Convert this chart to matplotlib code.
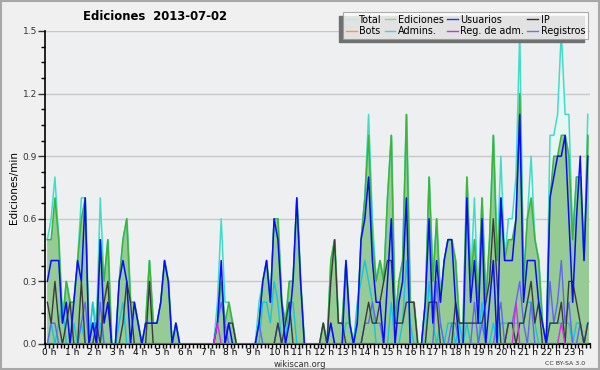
import numpy as np
import matplotlib.pyplot as plt
import matplotlib.transforms as mtransforms
from matplotlib.patches import Rectangle

# values per 10 minutes (edits/min), one row per hour
total = [0.5, 0.6, 0.8, 0.5, 0.1, 0.3,  0.2, 0.2, 0.4, 0.7, 0.7, 0.0,
         0.2, 0.1, 0.7, 0.3, 0.5, 0.0,  0.0, 0.3, 0.5, 0.6, 0.2, 0.2,
         0.1, 0.0, 0.1, 0.4, 0.1, 0.1,  0.2, 0.4, 0.3, 0.0, 0.1, 0.0,
         0.0, 0.0, 0.0, 0.0, 0.0, 0.0,  0.0, 0.0, 0.0, 0.2, 0.6, 0.2,
         0.2, 0.1, 0.0, 0.0, 0.0, 0.0,  0.0, 0.0, 0.2, 0.3, 0.4, 0.2,
         0.6, 0.6, 0.2, 0.1, 0.3, 0.3,  0.7, 0.3, 0.0, 0.0, 0.0, 0.0,
         0.0, 0.1, 0.0, 0.4, 0.5, 0.1,  0.1, 0.4, 0.1, 0.0, 0.1, 0.5,
         0.7, 1.1, 0.6, 0.3, 0.4, 0.3,  0.7, 1.0, 0.1, 0.3, 0.4, 1.1,
         0.2, 0.2, 0.0, 0.0, 0.2, 0.8,  0.3, 0.6, 0.2, 0.4, 0.5, 0.5,
         0.4, 0.1, 0.1, 0.8, 0.3, 0.7,  0.2, 0.7, 0.2, 0.5, 1.0, 0.4,
         0.9, 0.4, 0.6, 0.6, 0.8, 1.5,  0.3, 0.6, 0.9, 0.5, 0.4, 0.1,
         0.0, 1.0, 1.0, 1.1, 1.5, 1.1,  1.1, 0.5, 0.8, 0.8, 0.4, 1.1]
ediciones = [0.5, 0.5, 0.7, 0.5, 0.1, 0.3,  0.2, 0.2, 0.4, 0.6, 0.7, 0.0,
             0.1, 0.1, 0.5, 0.3, 0.5, 0.0,  0.0, 0.3, 0.5, 0.6, 0.2, 0.2,
             0.1, 0.0, 0.1, 0.4, 0.1, 0.1,  0.2, 0.4, 0.3, 0.0, 0.1, 0.0,
             0.0, 0.0, 0.0, 0.0, 0.0, 0.0,  0.0, 0.0, 0.0, 0.1, 0.3, 0.1,
             0.2, 0.1, 0.0, 0.0, 0.0, 0.0,  0.0, 0.0, 0.1, 0.3, 0.4, 0.2,
             0.6, 0.6, 0.2, 0.1, 0.3, 0.3,  0.7, 0.3, 0.0, 0.0, 0.0, 0.0,
             0.0, 0.1, 0.0, 0.4, 0.5, 0.1,  0.1, 0.4, 0.1, 0.0, 0.1, 0.5,
             0.7, 1.0, 0.5, 0.3, 0.4, 0.3,  0.7, 1.0, 0.1, 0.3, 0.4, 1.1,
             0.2, 0.2, 0.0, 0.0, 0.2, 0.8,  0.3, 0.6, 0.2, 0.4, 0.5, 0.5,
             0.4, 0.1, 0.1, 0.8, 0.3, 0.5,  0.2, 0.7, 0.2, 0.5, 1.0, 0.4,
             0.7, 0.4, 0.5, 0.5, 0.6, 1.2,  0.3, 0.6, 0.7, 0.5, 0.4, 0.1,
             0.0, 0.7, 0.9, 0.9, 1.0, 1.0,  0.9, 0.5, 0.8, 0.8, 0.4, 1.0]
usuarios = [0.3, 0.4, 0.4, 0.4, 0.1, 0.2,  0.0, 0.2, 0.4, 0.3, 0.7, 0.0,
            0.1, 0.0, 0.5, 0.1, 0.2, 0.0,  0.0, 0.3, 0.4, 0.3, 0.0, 0.2,
            0.1, 0.0, 0.1, 0.1, 0.1, 0.1,  0.2, 0.4, 0.3, 0.0, 0.1, 0.0,
            0.0, 0.0, 0.0, 0.0, 0.0, 0.0,  0.0, 0.0, 0.0, 0.1, 0.4, 0.0,
            0.1, 0.0, 0.0, 0.0, 0.0, 0.0,  0.0, 0.0, 0.1, 0.3, 0.4, 0.2,
            0.6, 0.5, 0.2, 0.0, 0.1, 0.3,  0.7, 0.3, 0.0, 0.0, 0.0, 0.0,
            0.0, 0.0, 0.0, 0.1, 0.0, 0.0,  0.0, 0.4, 0.1, 0.0, 0.1, 0.5,
            0.6, 0.8, 0.4, 0.2, 0.2, 0.0,  0.3, 0.6, 0.0, 0.2, 0.3, 0.7,
            0.0, 0.0, 0.0, 0.0, 0.2, 0.6,  0.1, 0.4, 0.2, 0.4, 0.5, 0.5,
            0.2, 0.0, 0.0, 0.7, 0.2, 0.4,  0.1, 0.6, 0.0, 0.2, 0.4, 0.0,
            0.7, 0.4, 0.4, 0.4, 0.6, 1.1,  0.2, 0.4, 0.4, 0.4, 0.2, 0.1,
            0.0, 0.7, 0.8, 0.9, 0.9, 1.0,  0.6, 0.2, 0.6, 0.9, 0.4, 0.9]
ip = [0.2, 0.1, 0.3, 0.1, 0.0, 0.1,  0.2, 0.0, 0.0, 0.3, 0.0, 0.0,
      0.0, 0.1, 0.0, 0.2, 0.3, 0.0,  0.0, 0.0, 0.1, 0.3, 0.2, 0.0,
      0.0, 0.0, 0.0, 0.3, 0.0, 0.0,  0.0, 0.0, 0.0, 0.0, 0.0, 0.0,
      0.0, 0.0, 0.0, 0.0, 0.0, 0.0,  0.0, 0.0, 0.0, 0.0, 0.0, 0.0,
      0.1, 0.1, 0.0, 0.0, 0.0, 0.0,  0.0, 0.0, 0.0, 0.0, 0.0, 0.0,
      0.0, 0.1, 0.0, 0.1, 0.2, 0.0,  0.0, 0.0, 0.0, 0.0, 0.0, 0.0,
      0.0, 0.1, 0.0, 0.3, 0.5, 0.1,  0.1, 0.0, 0.0, 0.0, 0.0, 0.0,
      0.1, 0.2, 0.1, 0.1, 0.2, 0.3,  0.4, 0.4, 0.1, 0.1, 0.1, 0.2,
      0.2, 0.2, 0.0, 0.0, 0.0, 0.2,  0.2, 0.2, 0.0, 0.0, 0.0, 0.0,
      0.2, 0.1, 0.1, 0.1, 0.1, 0.1,  0.1, 0.1, 0.2, 0.3, 0.6, 0.3,
      0.0, 0.0, 0.1, 0.1, 0.0, 0.1,  0.1, 0.2, 0.3, 0.1, 0.2, 0.0,
      0.0, 0.1, 0.1, 0.1, 0.2, 0.0,  0.3, 0.3, 0.2, 0.1, 0.0, 0.1]
admins = [0.0, 0.1, 0.0, 0.1, 0.2, 0.0,  0.0, 0.1, 0.0, 0.1, 0.0, 0.0,
          0.2, 0.0, 0.1, 0.0, 0.0, 0.0,  0.0, 0.1, 0.2, 0.0, 0.0, 0.0,
          0.0, 0.0, 0.0, 0.0, 0.0, 0.0,  0.0, 0.0, 0.0, 0.0, 0.0, 0.0,
          0.0, 0.0, 0.0, 0.0, 0.0, 0.0,  0.0, 0.0, 0.0, 0.0, 0.0, 0.0,
          0.0, 0.0, 0.0, 0.0, 0.0, 0.0,  0.0, 0.0, 0.0, 0.2, 0.2, 0.1,
          0.3, 0.2, 0.0, 0.0, 0.2, 0.2,  0.0, 0.0, 0.0, 0.0, 0.0, 0.0,
          0.0, 0.0, 0.0, 0.0, 0.0, 0.0,  0.0, 0.1, 0.1, 0.0, 0.2, 0.3,
          0.4, 0.3, 0.2, 0.0, 0.0, 0.0,  0.0, 0.2, 0.0, 0.0, 0.1, 0.4,
          0.1, 0.0, 0.0, 0.0, 0.0, 0.3,  0.1, 0.0, 0.1, 0.0, 0.1, 0.1,
          0.0, 0.1, 0.0, 0.1, 0.0, 0.0,  0.0, 0.2, 0.0, 0.0, 0.1, 0.0,
          0.1, 0.1, 0.1, 0.1, 0.1, 0.1,  0.1, 0.2, 0.2, 0.1, 0.0, 0.0,
          0.0, 0.1, 0.1, 0.1, 0.1, 0.1,  0.1, 0.0, 0.1, 0.1, 0.0, 0.1]
registros = [0.0, 0.1, 0.1, 0.0, 0.0, 0.0,  0.0, 0.0, 0.0, 0.1, 0.2, 0.0,
             0.1, 0.0, 0.2, 0.0, 0.0, 0.0,  0.0, 0.0, 0.0, 0.0, 0.0, 0.0,
             0.0, 0.0, 0.0, 0.0, 0.0, 0.0,  0.0, 0.0, 0.0, 0.0, 0.0, 0.0,
             0.0, 0.0, 0.0, 0.0, 0.0, 0.0,  0.0, 0.0, 0.0, 0.1, 0.2, 0.1,
             0.0, 0.0, 0.0, 0.0, 0.0, 0.0,  0.0, 0.0, 0.1, 0.0, 0.0, 0.0,
             0.0, 0.1, 0.0, 0.0, 0.0, 0.0,  0.0, 0.0, 0.0, 0.0, 0.0, 0.0,
             0.0, 0.0, 0.0, 0.1, 0.0, 0.0,  0.0, 0.0, 0.0, 0.0, 0.0, 0.0,
             0.1, 0.1, 0.2, 0.1, 0.1, 0.0,  0.0, 0.0, 0.0, 0.0, 0.0, 0.0,
             0.0, 0.0, 0.0, 0.0, 0.0, 0.0,  0.0, 0.3, 0.1, 0.0, 0.0, 0.1,
             0.1, 0.0, 0.0, 0.0, 0.0, 0.2,  0.0, 0.1, 0.0, 0.0, 0.0, 0.1,
             0.2, 0.0, 0.1, 0.1, 0.2, 0.3,  0.1, 0.0, 0.2, 0.0, 0.0, 0.0,
             0.0, 0.3, 0.1, 0.2, 0.4, 0.1,  0.2, 0.0, 0.0, 0.1, 0.0, 0.1]
reg_adm = [0.0] * 45 + [0.1] + [0.0] * 78 + [0.2] + [0.0] * 11 + [0.1] + [0.0] * 7
bots = [0.0] * 144

hour_labels = ['%d h' % h for h in range(24)]

x = (np.arange(144) + 0.5) / 6.0

fig = plt.figure(figsize=(6, 3.7), dpi=100, facecolor='#f0f0f0')
fig.patches.append(Rectangle((0.002, 0.003), 0.996, 0.994, transform=fig.transFigure,
                             fill=False, edgecolor='#a8a8a8', lw=1.5))
ax = fig.add_axes([0.0758, 0.0703, 0.907, 0.846])
ax.set_facecolor('#eeeff1')

ax.fill_between(x, total, color='#e6f7f3', zorder=1)
ax.fill_between(x, ediciones, color='#96cb96', zorder=2)
ax.plot(x, total, color='#40dcc8', lw=1.1, zorder=3)
ax.plot(x, ediciones, color='#3cb43c', lw=1.1, zorder=3)
ax.plot(x, bots, color='#ff9933', lw=1, zorder=3)
ax.plot(x, admins, color='#19c3dc', lw=1.0, zorder=4)
ax.plot(x, registros, color='#6464f0', lw=1.0, zorder=4)
ax.plot(x, ip, color='#3a3a3a', lw=1.0, zorder=5)
ax.plot(x, usuarios, color='#0a0aff', lw=1.1, zorder=6)
ax.plot(x, reg_adm, color='#cc33dd', lw=1.0, zorder=6)

ax.set_xlim(0, 24)
ax.set_ylim(0, 1.5)
for y in [0.3, 0.6, 0.9, 1.2, 1.5]:
    ax.axhline(y, color='#c8c8c8', lw=1, zorder=0.5)

ax.set_yticks([0.0, 0.3, 0.6, 0.9, 1.2, 1.5])
ax.set_yticklabels(['0.0', '0.3', '0.6', '0.9', '1.2', '1.5'])
ax.set_yticks(np.arange(0, 1.51, 0.075), minor=True)
ax.set_xticks(range(24))
ax.set_xticklabels(hour_labels, ha='left')
ax.set_xticks(np.arange(0, 24.01, 1 / 6.0), minor=True)
ax.tick_params(axis='y', which='major', length=5, width=1, labelsize=6.5, pad=1, colors='#333333')
ax.tick_params(axis='y', which='minor', length=3, width=1)
ax.tick_params(axis='x', which='both', length=3, width=1, labelsize=6.5, pad=0)
offset = mtransforms.ScaledTranslation(-2.5 / 72, 0, fig.dpi_scale_trans)
for lab in ax.get_xticklabels():
    lab.set_transform(lab.get_transform() + offset)

for s in ['top', 'right']:
    ax.spines[s].set_visible(False)
ax.spines['left'].set_linewidth(1.2)
ax.spines['bottom'].set_linewidth(1.5)
ax.set_ylabel('Ediciones/min', fontsize=7.5, labelpad=3)

fig.text(0.258, 0.955, 'Ediciones  2013-07-02', fontsize=8.4, fontweight='bold',
         ha='center', va='center')
fig.text(0.5, 0.016, 'wikiscan.org', fontsize=6, ha='center', va='center', color='#333333')
fig.text(0.942, 0.018, 'CC BY-SA 3.0', fontsize=4.5, ha='center', va='center', color='#333333')

# legend
handles = []
names = ['Total', 'Bots', 'Ediciones', 'Admins.', 'Usuarios', 'Reg. de adm.', 'IP', 'Registros']
colors = ['#b0ece4', '#ff9933', '#88d888', '#40d0e0', '#3030e0', '#cc33dd', '#333333', '#7070f0']
for c in colors:
    handles.append(plt.Line2D([], [], color=c, lw=1))
leg = fig.legend(handles, names, ncol=4, loc='upper right', bbox_to_anchor=(0.98, 0.968),
                 fontsize=6.9, frameon=True, fancybox=False, shadow=False,
                 handlelength=1.1, handletextpad=0.3, columnspacing=0.3,
                 labelspacing=0.12, borderpad=0.3, borderaxespad=0)
leg.get_frame().set_edgecolor('#999999')
leg.get_frame().set_linewidth(0.8)
fig.canvas.draw()
bb = leg.get_window_extent().transformed(fig.transFigure.inverted())
fig.patches.append(Rectangle((bb.x0 - 0.006, bb.y0 - 0.01), bb.width, bb.height,
                             transform=fig.transFigure, color='#707070', zorder=9))
leg.set_zorder(10)

fig.savefig('out.png', dpi=100, facecolor=fig.get_facecolor())
